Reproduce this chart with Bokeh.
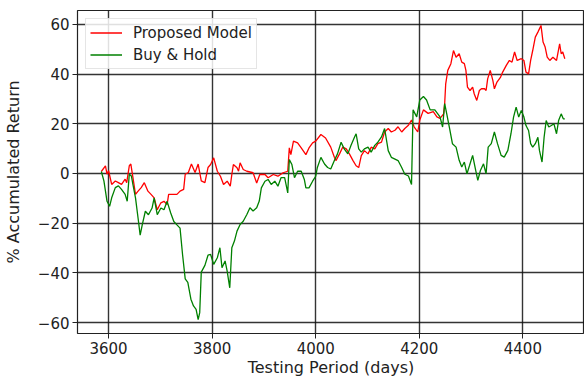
from bokeh.plotting import figure
from bokeh.models import FixedTicker, Range1d, Legend, LegendItem, CustomJSTickFormatter
from bokeh.embed import file_html
from bokeh.resources import INLINE

# ---- data ----
model_days = [3586, 3594, 3597, 3600, 3606, 3613, 3619, 3625, 3632, 3635, 3640, 3643, 3647, 3652,
              3657, 3663, 3669, 3676, 3682, 3688, 3694, 3701, 3707, 3713, 3716, 3723, 3732, 3738,
              3745, 3748, 3754, 3760, 3767, 3773, 3779, 3786, 3792, 3797, 3803, 3810, 3816, 3822,
              3829, 3835, 3838, 3841, 3848, 3851, 3854, 3860, 3867, 3879, 3886, 3892, 3902, 3908,
              3918, 3927, 3937, 3946, 3949, 3952, 3957, 3965, 3972, 3981, 3987, 3994, 4000, 4010,
              4019, 4029, 4036, 4039, 4046, 4052, 4059, 4065, 4072, 4078, 4083, 4088, 4094, 4101,
              4107, 4114, 4120, 4127, 4133, 4140, 4146, 4153, 4159, 4166, 4172, 4179, 4185, 4190,
              4197, 4201, 4208, 4217, 4227, 4234, 4240, 4242, 4247, 4249, 4251, 4255, 4261, 4266,
              4271, 4277, 4282, 4287, 4290, 4293, 4298, 4303, 4306, 4311, 4316, 4320, 4326, 4329,
              4332, 4337, 4342, 4345, 4350, 4357, 4361, 4368, 4374, 4379, 4384, 4389, 4397, 4402,
              4406, 4411, 4415, 4419, 4424, 4429, 4435, 4439, 4443, 4447, 4452, 4458, 4465, 4471,
              4474, 4477, 4481]
model_return = [0.8, 3.1, -0.3, 1.1, -4.4, -3.0, -3.7, -4.4, -2.3, -3.7, 3.1, 3.8, -1.6, -8.4,
                -7.1, -5.7, -3.7, -7.1, -8.4, -9.8, -14.6, -11.8, -11.2, -12.5, -8.4, -8.4, -8.4, -7.1,
                -6.4, -0.3, 0.4, 3.8, 0.4, 3.8, -3.0, -3.7, 2.4, 3.6, 6.3, 0.9, -1.1, -4.4,
                -3.1, -5.1, -0.4, 3.6, 2.3, 0.9, 4.3, 1.6, 0.9, 0.3, -3.8, -0.4, -0.4, -1.7,
                -0.4, -1.1, 0.3, 0.9, 10.3, 7.6, 13.0, 12.3, 10.3, 7.6, 10.3, 12.3, 13.0, 15.7,
                14.3, 10.6, 6.5, 5.2, 7.9, 10.6, 9.9, 7.9, 5.2, 3.1, 2.4, 7.2, 9.2, 7.9,
                10.6, 9.9, 12.0, 12.6, 16.7, 18.1, 16.7, 17.4, 18.8, 16.7, 18.1, 19.4, 21.5, 18.8,
                16.7, 21.5, 25.6, 24.2, 24.9, 22.8, 22.2, 22.7, 24.0, 28.1, 36.1, 41.5, 44.2, 49.5,
                46.8, 48.2, 44.8, 44.2, 41.5, 34.8, 33.4, 34.8, 32.1, 29.4, 33.4, 34.1, 34.1, 33.4,
                38.1, 41.5, 37.5, 34.1, 36.8, 38.8, 40.8, 43.5, 45.5, 44.8, 48.9, 45.5, 46.2, 45.5,
                40.8, 40.1, 45.5, 49.5, 54.9, 56.9, 59.6, 52.9, 50.9, 46.8, 45.5, 46.8, 45.5, 52.2,
                48.2, 48.9, 46.2]

hold_days = [3586, 3591, 3597, 3602, 3606, 3613, 3619, 3625, 3632, 3636, 3640, 3644, 3647, 3652,
             3657, 3661, 3665, 3671, 3677, 3684, 3688, 3694, 3701, 3707, 3713, 3720, 3726, 3732,
             3738, 3743, 3748, 3753, 3759, 3764, 3769, 3773, 3776, 3779, 3786, 3792, 3797, 3803,
             3810, 3815, 3819, 3825, 3829, 3834, 3838, 3843, 3848, 3854, 3860, 3867, 3873, 3879,
             3886, 3891, 3895, 3902, 3908, 3914, 3921, 3927, 3933, 3940, 3946, 3949, 3954, 3959,
             3965, 3972, 3978, 3981, 3987, 3994, 4000, 4003, 4010, 4017, 4023, 4029, 4036, 4042,
             4049, 4055, 4062, 4068, 4075, 4078, 4083, 4088, 4094, 4101, 4107, 4114, 4120, 4127,
             4133, 4140, 4146, 4153, 4159, 4166, 4172, 4179, 4185, 4188, 4195, 4201, 4208, 4214,
             4221, 4230, 4240, 4245, 4249, 4253, 4258, 4264, 4271, 4277, 4282, 4287, 4292, 4297,
             4303, 4309, 4313, 4318, 4324, 4329, 4333, 4339, 4345, 4351, 4358, 4364, 4371, 4377,
             4382, 4387, 4392, 4397, 4402, 4406, 4411, 4415, 4419, 4424, 4429, 4432, 4437, 4441,
             4445, 4450, 4455, 4460, 4465, 4469, 4474, 4478, 4481]
hold_return = [0.8, -3.0, -11.2, -13.2, -9.8, -5.7, -5.0, -6.4, -8.4, -11.2, -0.3, -1.0, -4.4, -9.8,
               -18.0, -24.8, -20.7, -15.2, -16.6, -13.9, -9.8, -16.6, -13.9, -14.6, -11.2, -15.9, -19.3, -20.7,
               -22.0, -32.9, -42.4, -43.8, -50.6, -53.3, -54.7, -58.8, -56.0, -39.7, -37.0, -32.9, -32.6, -36.6,
               -33.9, -29.9, -37.9, -35.2, -39.3, -46.0, -29.9, -27.2, -23.2, -20.5, -19.2, -16.5, -13.8, -15.1,
               -13.8, -11.1, -5.8, -3.1, -2.4, -4.4, -3.1, -5.1, -1.7, -1.7, -7.8, 5.6, 3.6, -1.7,
               0.9, 0.9, -2.4, -5.8, -5.8, -3.1, -1.1, 2.3, 6.5, 3.8, 2.4, 1.8, 5.2, 7.9,
               12.6, 9.9, 7.9, 11.3, 14.7, 16.0, 9.9, 8.6, 9.9, 10.6, 8.6, 11.3, 12.6, 14.7,
               18.1, 9.2, 6.5, 5.8, 5.2, 2.4, -0.3, -1.0, -4.4, 25.6, 22.8, 29.6, 31.0, 29.6,
               25.6, 25.6, 22.8, 18.7, 28.1, 24.0, 18.7, 12.0, 10.6, 5.3, 2.6, 4.6, -0.1, 3.2,
               7.3, 1.2, -2.8, 1.2, 3.9, -0.1, 10.6, 12.0, 16.7, 12.0, 7.3, 6.6, 9.3, 16.0,
               22.7, 26.7, 22.7, 25.4, 22.7, 19.3, 17.3, 12.0, 10.6, 12.0, 14.6, 9.3, 4.6, 14.6,
               21.3, 18.7, 19.3, 20.0, 16.0, 21.3, 24.0, 22.0, 22.0]

x_ticks = [3600, 3800, 4000, 4200, 4400]
y_ticks = [-60, -40, -20, 0, 20, 40, 60]
series_names = ["Proposed Model", "Buy & Hold"]

FONT = "DejaVu Sans"

p = figure(width=584, height=379, output_backend="svg", toolbar_location=None,
           x_range=Range1d(3540, 4519), y_range=Range1d(-64.4, 65.6),
           min_border_left=76, min_border_right=0, min_border_top=10, min_border_bottom=46)

r1 = p.line(model_days, model_return, line_color="#ff0000", line_width=1.3)
r2 = p.line(hold_days, hold_return, line_color="#008000", line_width=1.3)

minus_fmt = CustomJSTickFormatter(code="return tick.toString().replace('-', '\u2212');")

p.xaxis.ticker = FixedTicker(ticks=x_ticks)
p.yaxis.ticker = FixedTicker(ticks=y_ticks)
p.yaxis.formatter = minus_fmt
p.xaxis.axis_label = "Testing Period (days)"
p.yaxis.axis_label = "% Accumulated Return"

for ax in (p.xaxis[0], p.yaxis[0]):
    ax.axis_line_color = None
    ax.major_tick_line_color = "#222222"
    ax.major_tick_out = 5
    ax.major_tick_in = 0
    ax.minor_tick_line_color = None
    ax.major_label_text_font = FONT
    ax.major_label_text_font_size = "15px"
    ax.major_label_text_color = "#222222"
    ax.major_label_standoff = 3
    ax.axis_label_text_font = FONT
    ax.axis_label_text_font_size = "16px"
    ax.axis_label_text_font_style = "normal"
    ax.axis_label_text_color = "#222222"
p.xaxis.axis_label_standoff = 1
p.yaxis.axis_label_standoff = 12

p.grid.grid_line_color = "#111111"
p.grid.grid_line_width = 1.4
p.grid.grid_line_alpha = 0.85
p.outline_line_color = "#222222"
p.outline_line_width = 1.2
p.background_fill_color = "white"
p.border_fill_color = "white"

legend = Legend(items=[LegendItem(label=series_names[0], renderers=[r1]),
                       LegendItem(label=series_names[1], renderers=[r2])],
                location="top_left")
legend.margin = 8
legend.padding = 4
legend.spacing = 3
legend.glyph_width = 32
legend.glyph_height = 19
legend.label_height = 19
legend.label_standoff = 11
legend.label_text_font = FONT
legend.label_text_font_size = "15px"
legend.label_text_color = "#222222"
legend.border_line_color = "#cccccc"
legend.border_line_width = 1
legend.background_fill_alpha = 0.85
p.add_layout(legend)

open("out.html", "w").write(file_html(p, INLINE))
